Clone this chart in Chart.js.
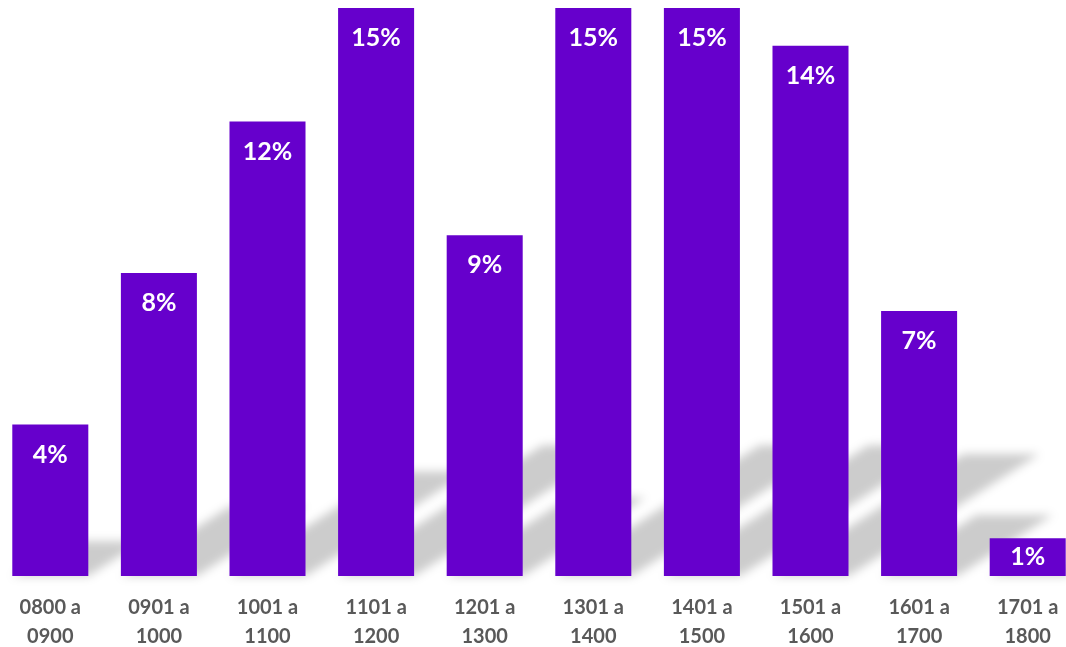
<!DOCTYPE html>
<html>
<head>
<meta charset="utf-8">
<script src="https://cdn.jsdelivr.net/npm/chart.js@4/dist/chart.umd.min.js"></script>
<style>
  html, body { margin: 0; padding: 0; background: #ffffff; overflow: hidden; }
  #wrap { position: absolute; left: -4px; top: 0; width: 1086px; height: 647px; }
</style>
</head>
<body>
<div id="wrap"><canvas id="c"></canvas></div>
<script>
const categories = [
  ['0800 a', '0900'], ['0901 a', '1000'], ['1001 a', '1100'], ['1101 a', '1200'],
  ['1201 a', '1300'], ['1301 a', '1400'], ['1401 a', '1500'], ['1501 a', '1600'],
  ['1601 a', '1700'], ['1701 a', '1800']
];
const percentValues = [4, 8, 12, 15, 9, 15, 15, 14, 7, 1];
const valueLabels = ['4%', '8%', '12%', '15%', '9%', '15%', '15%', '14%', '7%', '1%'];

const shadowPlugin = {
  id: 'barShadow',
  beforeDatasetsDraw(chart) {
    const ctx = chart.ctx;
    const meta = chart.getDatasetMeta(0);
    ctx.save();
    ctx.filter = 'blur(5px)';
    ctx.fillStyle = 'rgba(0,0,0,0.2)';
    ctx.beginPath();
    meta.data.forEach(bar => {
      const p = bar.getProps(['x', 'y', 'base', 'width'], true);
      const h = p.base - p.y;
      const x0 = p.x - p.width / 2, x1 = p.x + p.width / 2;
      const dx = 0.36 * h, dy = 0.23 * h;
      ctx.moveTo(x0, p.base);
      ctx.lineTo(x1, p.base);
      ctx.lineTo(x1 + dx, p.base - dy);
      ctx.lineTo(x0 + dx, p.base - dy);
      ctx.closePath();
    });
    ctx.fill();
    ctx.restore();
  }
};

const labelPlugin = {
  id: 'barLabels',
  afterDatasetsDraw(chart) {
    const ctx = chart.ctx;
    const meta = chart.getDatasetMeta(0);
    ctx.save();
    ctx.fillStyle = '#ffffff';
    ctx.font = 'bold 25px Lato, "Open Sans", sans-serif';
    ctx.textAlign = 'center';
    ctx.textBaseline = 'middle';
    meta.data.forEach((bar, i) => {
      const p = bar.getProps(['x', 'y', 'base'], true);
      const h = p.base - p.y;
      ctx.fillText(valueLabels[i], p.x, p.y + Math.min(30, h / 2));
    });
    ctx.restore();
  }
};

new Chart(document.getElementById('c'), {
  type: 'bar',
  data: {
    labels: categories,
    datasets: [{
      data: percentValues,
      backgroundColor: '#6600CC',
      borderWidth: 0,
      barPercentage: 0.7,
      categoryPercentage: 1.0
    }]
  },
  options: {
    responsive: true,
    maintainAspectRatio: false,
    animation: false,
    layout: { padding: { top: 8, left: 0, right: 0, bottom: 0 } },
    plugins: { legend: { display: false }, tooltip: { enabled: false } },
    scales: {
      x: {
        grid: { display: false, drawTicks: false },
        border: { display: false },
        ticks: {
          color: '#595959',
          font: { family: 'Lato, "Open Sans", sans-serif', size: 20, weight: 'bold', lineHeight: 1.45 },
          padding: 17,
          maxRotation: 0,
          autoSkip: false
        },
        afterFit(scale) { scale.height = 71; }
      },
      y: {
        display: false,
        min: 0,
        max: 15
      }
    }
  },
  plugins: [shadowPlugin, labelPlugin]
});
</script>
</body>
</html>
